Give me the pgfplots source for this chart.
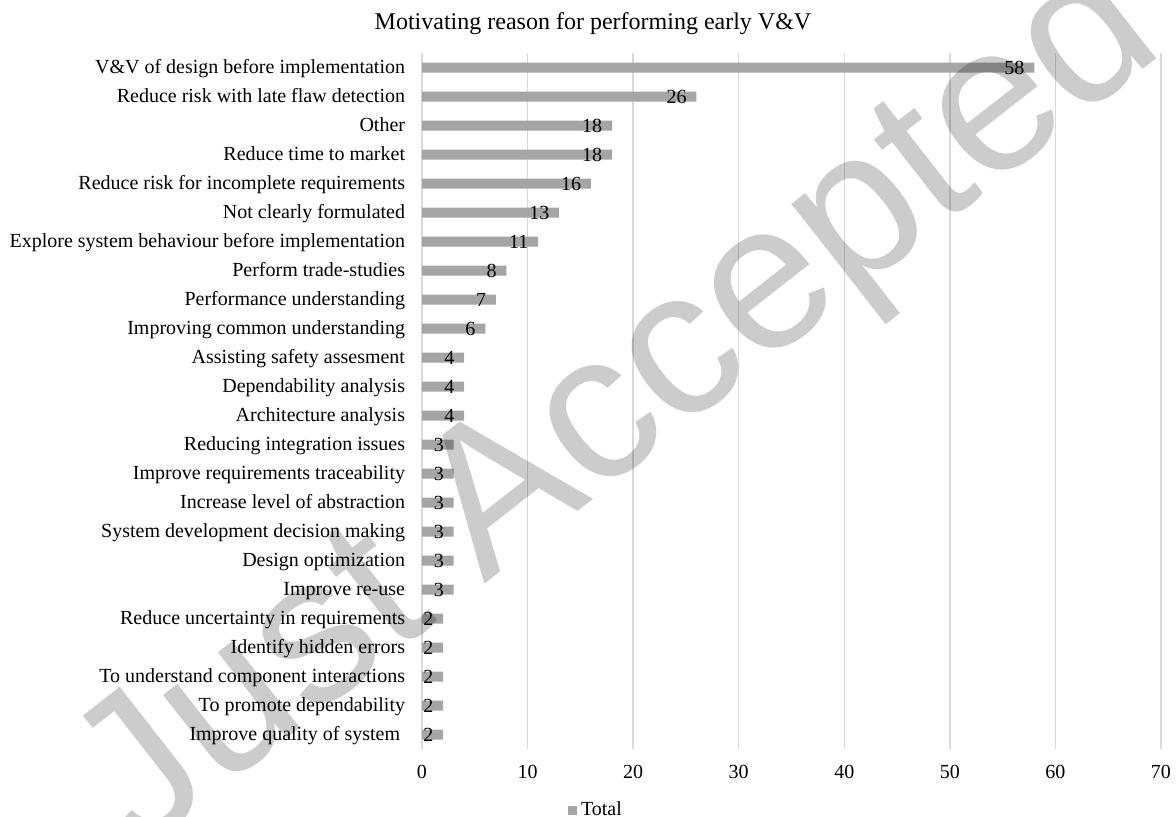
\documentclass[border=0pt]{standalone}
\usepackage{fontspec}
\setmainfont{Liberation Serif}
\newfontfamily\wmfont{Liberation Sans}
\usepackage{pgfplots}
\pgfplotsset{compat=1.18}
\definecolor{barGray}{RGB}{165,165,165}
\definecolor{gridGray}{RGB}{217,217,217}

\begin{document}
\begin{tikzpicture}
\path[use as bounding box] (-211bp,-34bp) rectangle (377bp,374.5bp);
\begin{axis}[
  at={(0,0)}, anchor=south west, scale only axis,
  width=369.5bp, height=348bp,
  xbar, bar width=5bp,
  xmin=0, xmax=70, ymin=-0.5, ymax=23.5, y dir=reverse,
  xtick={0,10,...,70}, ytick={0,...,23},
  yticklabels={
    V\&V of design before implementation,
    Reduce risk with late flaw detection,
    Other,
    Reduce time to market,
    Reduce risk for incomplete requirements,
    Not clearly formulated,
    Explore system behaviour before implementation,
    Perform trade-studies,
    Performance understanding,
    Improving common understanding,
    Assisting safety assesment,
    Dependability analysis,
    Architecture analysis,
    Reducing integration issues,
    Improve requirements traceability,
    Increase level of abstraction,
    System development decision making,
    Design optimization,
    Improve re-use,
    Reduce uncertainty in requirements,
    Identify hidden errors,
    To understand component interactions,
    To promote dependability,
    Improve quality of system\ \ },
  xmajorgrids, major grid style={draw=gridGray, line width=0.75bp},
  axis line style={draw=none}, tick style={draw=none},
  tick label style={font=\fontsize{10bp}{12bp}\selectfont},
  /pgf/number format/assume math mode=true,
  xticklabel style={yshift=-4.8bp},
  yticklabel style={xshift=-0.7bp, text height=8bp, text depth=1.7bp},
  nodes near coords, point meta=x,
  every node near coord/.append style={anchor=east, xshift=-1.4bp, black,
    text height=8bp, text depth=0.7bp,
    font=\fontsize{10bp}{12bp}\selectfont},
  legend style={at={(0.2368,-0.0877)}, anchor=center, draw=none,
    font=\fontsize{10bp}{12bp}\selectfont, inner sep=0pt},
]
\addplot[fill=barGray, draw=none,
  legend image code/.code={\fill[barGray] (0bp,-2.25bp) rectangle (4.5bp,2.25bp);}]
  coordinates {
    (58,0) (26,1) (18,2) (18,3) (16,4) (13,5) (11,6) (8,7)
    (7,8) (6,9) (4,10) (4,11) (4,12) (3,13) (3,14) (3,15)
    (3,16) (3,17) (3,18) (2,19) (2,20) (2,21) (2,22) (2,23)
  };
\legend{Total}
\end{axis}
\node at (85.5bp,362.5bp) {\fontsize{12bp}{14bp}\selectfont Motivating reason for performing early V\&V};
\node[rotate=38, text opacity=0.2, font=\wmfont\fontsize{104bp}{104bp}\selectfont]
  at (99bp,169.5bp) {Just Accepted};
\end{tikzpicture}
\end{document}
